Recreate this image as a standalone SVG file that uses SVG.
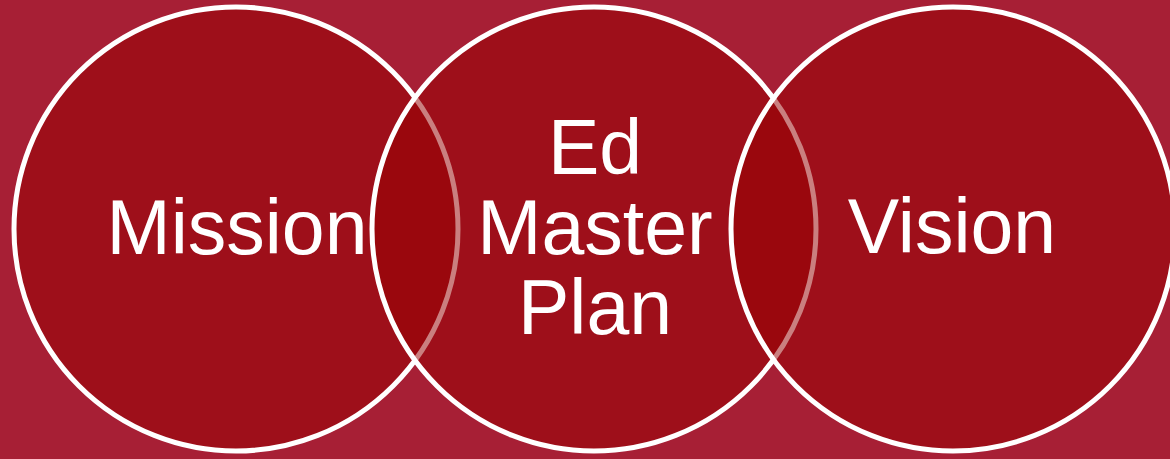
<svg xmlns="http://www.w3.org/2000/svg" width="1170" height="459" viewBox="0 0 1170 459">
  <style>
    .c { fill: #950000; fill-opacity: 0.5; stroke: #ffffff; stroke-width: 5; }
    .t { font-family: "Liberation Sans", Arial, sans-serif; font-size: 77px; fill: #ffffff; text-anchor: middle; }
  </style>
  <rect width="1170" height="459" fill="#A71F35"/>
  <g id="connectors"></g>
  <g id="mission">
    <circle class="c" cx="236" cy="229" r="222"/>
    <text class="t" x="237" y="254">Mission</text>
  </g>
  <g id="ed-master-plan">
    <circle class="c" cx="594" cy="229" r="222"/>
    <text class="t" x="595" y="174">Ed</text>
    <text class="t" x="595" y="254">Master</text>
    <text class="t" x="595" y="334">Plan</text>
  </g>
  <g id="vision">
    <circle class="c" cx="953" cy="229" r="222"/>
    <text class="t" x="952" y="253">Vision</text>
  </g>
</svg>
